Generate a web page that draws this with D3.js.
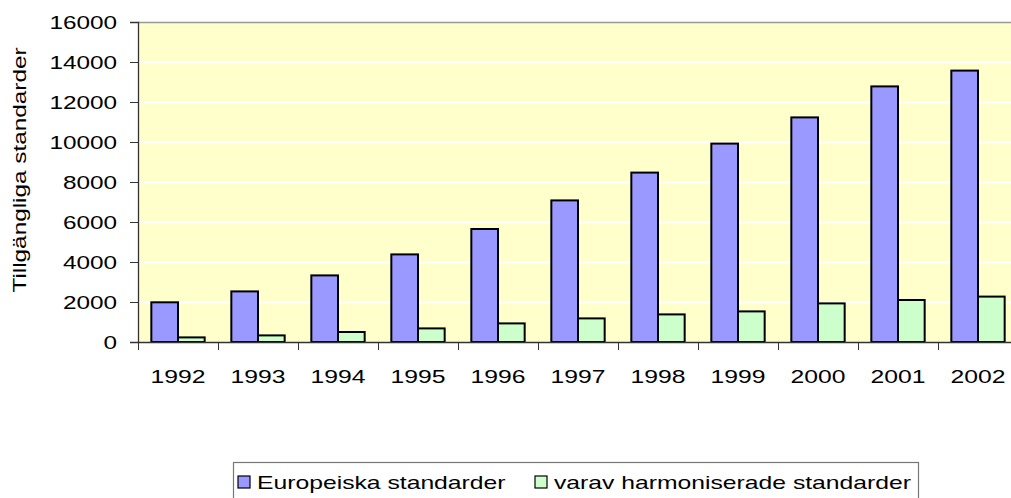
<!DOCTYPE html>
<html>
<head>
    <script src="https://d3js.org/d3.v7.min.js"></script>
    <style>
        body { margin: 0; background: #fff; }
        text { font-family: "Liberation Sans", Arial, sans-serif; fill: #000; }
    </style>
</head>
<body>
    <script>
        // data
        const years = ["1992", "1993", "1994", "1995", "1996", "1997", "1998", "1999", "2000", "2001", "2002"];
        const europeiska = [1985, 2530, 3330, 4380, 5650, 7080, 8470, 9920, 11230, 12780, 13570];
        const harmoniserade = [230, 330, 500, 680, 930, 1180, 1380, 1530, 1930, 2100, 2270];
        const yTicks = [0, 2000, 4000, 6000, 8000, 10000, 12000, 14000, 16000];
        const seriesNames = ["Europeiska standarder", "varav harmoniserade standarder"];
        const colors = ["#9999FF", "#CCFFCC"];

        const width = 1011, height = 498;
        const plot = { left: 138, top: 22, right: 1018, bottom: 342 };

        // the source font renders wider than Liberation Sans, stretch to match
        function stretch(sel, k) {
            sel.each(function() {
                const w = this.getComputedTextLength();
                d3.select(this)
                    .attr("textLength", w * k)
                    .attr("lengthAdjust", "spacingAndGlyphs");
            });
        }

        const svg = d3.select("body").append("svg")
            .attr("width", width)
            .attr("height", height);

        const x = d3.scaleBand()
            .domain(years)
            .range([plot.left, plot.right])
            .paddingInner(0)
            .paddingOuter(0);

        const y = d3.scaleLinear()
            .domain([0, 16000])
            .range([plot.bottom, plot.top]);

        const inner = d3.scaleBand()
            .domain([0, 1])
            .range([0, x.bandwidth()])
            .paddingOuter(0.5)
            .paddingInner(0);

        // plot background
        svg.append("rect")
            .attr("x", plot.left)
            .attr("y", plot.top)
            .attr("width", plot.right - plot.left)
            .attr("height", plot.bottom - plot.top)
            .attr("fill", "#FFFFCC");

        // gridlines
        svg.append("g")
            .selectAll("line")
            .data(yTicks.filter(d => d > 0 && d < 16000))
            .join("line")
            .attr("x1", plot.left)
            .attr("x2", plot.right)
            .attr("y1", d => Math.round(y(d)) + 0.5)
            .attr("y2", d => Math.round(y(d)) + 0.5)
            .attr("stroke", "#fff")
            .attr("stroke-width", 1.3);

        // top border
        svg.append("line")
            .attr("x1", plot.left).attr("x2", plot.right)
            .attr("y1", plot.top + 0.5).attr("y2", plot.top + 0.5)
            .attr("stroke", "#999").attr("stroke-width", 1.5);

        // bars
        const series = [europeiska, harmoniserade];
        series.forEach((vals, si) => {
            svg.append("g")
                .selectAll("rect")
                .data(vals)
                .join("rect")
                .attr("x", (d, i) => x(years[i]) + inner(si))
                .attr("y", d => y(d))
                .attr("width", inner.bandwidth())
                .attr("height", d => y(0) - y(d))
                .attr("fill", colors[si])
                .attr("stroke", "#000")
                .attr("stroke-width", 2);
        });

        // y axis
        const yAxis = svg.append("g")
            .attr("transform", `translate(${plot.left},0)`)
            .call(d3.axisLeft(y).tickValues(yTicks).tickSize(8).tickPadding(13).tickFormat(d3.format("d")));
        yAxis.select(".domain").attr("stroke", "#333").attr("stroke-width", 1.3);
        yAxis.selectAll(".tick line").attr("stroke", "#333");
        yAxis.selectAll("text")
            .style("font-size", "19px")
            .style("font-family", "'Liberation Sans', Arial, sans-serif")
            .call(stretch, 1.28);

        // x axis
        const xAxis = svg.append("g")
            .attr("transform", `translate(0,${plot.bottom})`)
            .call(d3.axisBottom(x).tickSize(0).tickPadding(28));
        xAxis.select(".domain").attr("stroke", "#333").attr("stroke-width", 1.3);
        xAxis.selectAll("text")
            .style("font-size", "19px")
            .style("font-family", "'Liberation Sans', Arial, sans-serif")
            .call(stretch, 1.3);

        // category boundary ticks
        svg.append("g")
            .selectAll("line")
            .data(years.concat(["end"]))
            .join("line")
            .attr("x1", (d, i) => plot.left + i * x.step() + 0.5)
            .attr("x2", (d, i) => plot.left + i * x.step() + 0.5)
            .attr("y1", plot.bottom)
            .attr("y2", plot.bottom + 8)
            .attr("stroke", "#333");

        // y title
        svg.append("text")
            .attr("transform", `translate(26,${(plot.top + plot.bottom) / 2 - 12}) rotate(-90)`)
            .attr("text-anchor", "middle")
            .style("font-size", "19px")
            .text("Tillgängliga standarder")
            .call(stretch, 1.28);

        // legend
        const legend = svg.append("g");
        legend.append("rect")
            .attr("x", 233.5).attr("y", 462.5)
            .attr("width", 685).attr("height", 50)
            .attr("fill", "#fff").attr("stroke", "#777").attr("stroke-width", 1.2);
        const legendX = [238, 535];
        seriesNames.forEach((name, i) => {
            legend.append("rect")
                .attr("x", legendX[i]).attr("y", 476)
                .attr("width", 12).attr("height", 12)
                .attr("fill", colors[i]).attr("stroke", "#000").attr("stroke-width", 1.2);
            legend.append("text")
                .attr("x", legendX[i] + 19).attr("y", 489)
                .style("font-size", "19px")
                .text(name)
                .call(stretch, 1.3);
        });
    </script>
</body>
</html>
